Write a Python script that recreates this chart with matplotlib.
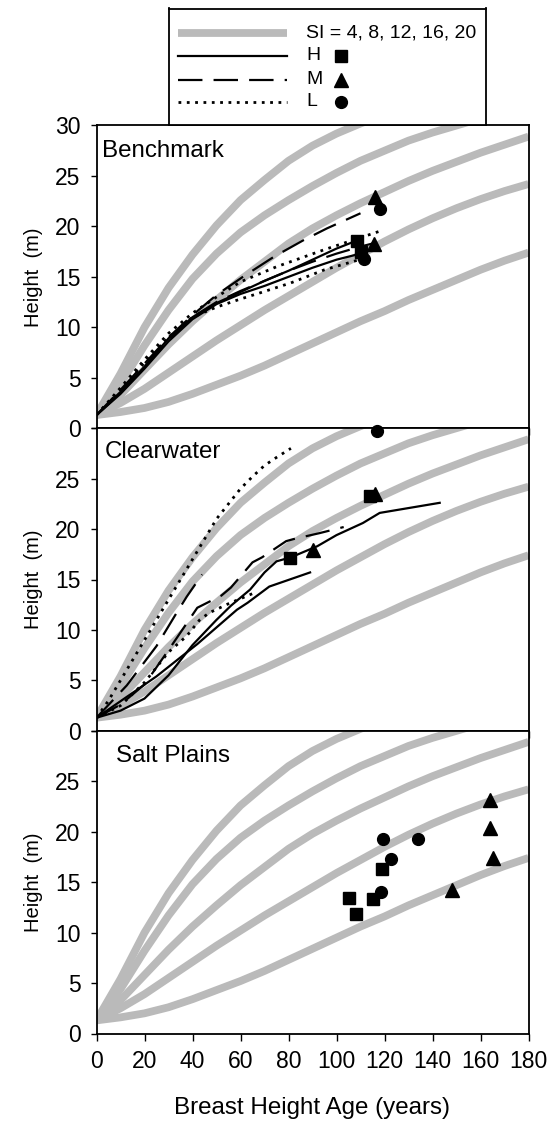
import matplotlib
matplotlib.use("Agg")
import matplotlib.pyplot as plt
from matplotlib.lines import Line2D

plt.rcParams['font.family'] = ['Liberation Sans', 'DejaVu Sans']

# ---------------- data ----------------
si_labels = [20, 16, 12, 8, 4]
si_ages = [0, 10, 20, 30, 40, 50, 60, 70, 80, 90, 100, 110, 120, 130, 140, 150, 160, 170, 180]
si20 = [1.3, 5.4, 10.0, 13.9, 17.2, 20.1, 22.6, 24.6, 26.5, 28.0, 29.2, 30.2, 31.1, 31.8, 32.4, 32.9, 33.3, 33.6, 33.9]
si16 = [1.3, 4.4, 8.2, 11.7, 14.8, 17.3, 19.4, 21.1, 22.6, 24.0, 25.3, 26.5, 27.5, 28.5, 29.3, 30.0, 30.7, 31.3, 31.8]
si12 = [1.3, 3.3, 5.8, 8.3, 10.6, 12.7, 14.7, 16.5, 18.3, 19.8, 21.1, 22.3, 23.4, 24.5, 25.5, 26.4, 27.3, 28.1, 28.9]
si8 = [1.3, 2.5, 3.9, 5.5, 7.1, 8.7, 10.2, 11.7, 13.1, 14.5, 15.9, 17.2, 18.5, 19.7, 20.8, 21.8, 22.7, 23.5, 24.2]
si4 = [1.3, 1.6, 2.0, 2.6, 3.4, 4.3, 5.2, 6.2, 7.3, 8.4, 9.5, 10.6, 11.6, 12.7, 13.7, 14.7, 15.7, 16.6, 17.4]
si_curves = [si20, si16, si12, si8, si4]

# Benchmark stand profiles
bm_H1_age = [0, 10, 20, 30, 40, 50, 60, 70, 80, 90, 100, 108.5]
bm_H1_ht = [1.3, 3.6, 6.1, 8.9, 11.0, 12.4, 13.5, 14.6, 15.6, 16.7, 17.8, 18.6]
bm_H2_age = [0, 10, 20, 30, 40, 50, 60, 70, 80, 90, 100, 110]
bm_H2_ht = [1.3, 3.4, 5.9, 8.6, 10.8, 12.3, 13.3, 14.1, 15.0, 15.9, 16.7, 17.3]
bm_M1_age = [0, 10, 20, 30, 40, 50, 61, 74, 86, 96, 110]
bm_M1_ht = [1.3, 3.8, 6.4, 9.0, 11.2, 13.2, 15.0, 17.0, 18.6, 19.8, 21.3]
bm_M2_age = [0, 10, 20, 30, 40, 50, 60, 70, 80, 90, 100, 110, 115]
bm_M2_ht = [1.3, 3.5, 6.0, 8.8, 11.0, 12.5, 13.6, 14.6, 15.6, 16.5, 17.3, 18.0, 18.3]
bm_L1_age = [0, 10, 20, 30, 40, 50, 60, 75, 95, 119]
bm_L1_ht = [1.3, 4.0, 6.8, 9.4, 11.4, 13.0, 14.5, 16.0, 17.7, 19.6]
bm_L2_age = [0, 10, 20, 30, 40, 50, 60, 68, 81, 95, 111]
bm_L2_ht = [1.3, 3.8, 6.5, 9.0, 11.0, 12.0, 12.8, 13.4, 14.4, 15.7, 16.8]
bm_H_pts_age = [108.5, 110]
bm_H_pts_ht = [18.6, 17.5]
bm_M_pts_age = [116, 115.5]
bm_M_pts_ht = [22.9, 18.3]
bm_L_pts_age = [118, 111.6]
bm_L_pts_ht = [21.7, 16.8]

# Clearwater stand profiles
cw_L1_age = [0, 5, 10, 15, 20, 25, 30, 35, 40, 45, 50, 55, 60, 65, 70, 75, 81]
cw_L1_ht = [1.3, 3.0, 5.0, 7.0, 9.0, 11.0, 13.0, 15.0, 17.0, 19.0, 21.0, 22.5, 24.0, 25.2, 26.3, 27.1, 28.0]
cw_L2_age = [0, 10, 20, 30, 37.6, 43, 47, 55, 65]
cw_L2_ht = [1.3, 2.5, 4.8, 7.8, 9.4, 11.0, 11.7, 12.6, 13.6]
cw_M1_age = [0, 10, 20, 30, 42, 52, 56, 65, 69, 79, 82, 93, 103]
cw_M1_ht = [1.3, 2.6, 4.6, 8.0, 12.2, 13.4, 14.2, 16.7, 17.2, 18.8, 19.0, 19.6, 20.2]
cw_M2_age = [0, 12.6, 25, 33.4, 37.6, 44]
cw_M2_ht = [1.3, 4.5, 8.4, 11.7, 13.3, 15.5]
cw_H1_age = [0, 10, 20, 30, 40, 50, 56, 64, 70, 75, 81, 92, 100, 111, 118, 143]
cw_H1_ht = [1.3, 2.0, 3.2, 5.5, 8.5, 11.0, 12.4, 14.0, 15.7, 16.8, 17.2, 18.3, 19.4, 20.6, 21.6, 22.6]
cw_H2_age = [0, 11, 25, 42, 58.5, 63, 72, 89]
cw_H2_ht = [1.3, 3.1, 5.4, 8.6, 12.0, 12.7, 14.3, 15.7]
cw_H_pts_age = [80.7, 114]
cw_H_pts_ht = [17.15, 23.3]
cw_M_pts_age = [90.1, 116]
cw_M_pts_ht = [17.9, 23.5]
cw_L_pts_age = [117]
cw_L_pts_ht = [29.7]

# Salt Plains plot measurements
sp_H_age = [105, 108, 115, 119]
sp_H_ht = [13.4, 11.8, 13.3, 16.3]
sp_M_age = [148, 164, 164, 165]
sp_M_ht = [14.2, 23.1, 20.4, 17.4]
sp_L_age = [118.5, 119.5, 122.8, 133.8]
sp_L_ht = [14.0, 19.3, 17.3, 19.3]

panel_names = ["Benchmark", "Clearwater", "Salt Plains"]
x_ticks = [0, 20, 40, 60, 80, 100, 120, 140, 160, 180]
y_ticks = [0, 5, 10, 15, 20, 25, 30]

# ---------------- style ----------------
W, H = 551, 1123
fig = plt.figure(figsize=(W / 100, H / 100), dpi=100)
GRAY = '#bababa'
SI_LW = 5.6
LW = 1.6
DASH = (0, (11, 5))
DOT = (0, (1, 2))
MS = 8.5

left_px, right_px = 96.5, 528.5
top_px, bot_px = 125.5, 1033.5
ph = (bot_px - top_px) / 3
title_pos = [(0.012, 0.897), (0.020, 0.901), (0.045, 0.896)]

axes = []
for i in range(3):
    y0 = top_px + i * ph
    ax = fig.add_axes([left_px / W, 1 - (y0 + ph) / H, (right_px - left_px) / W, ph / H])
    axes.append(ax)


def style(ls):
    return dict(color='black', lw=LW if ls != DOT else 2.0, linestyle=ls)


def si_band(ax, x, y):
    ax.plot(x, y, color=GRAY, lw=SI_LW, solid_capstyle='butt', zorder=1)


for i, ax in enumerate(axes):
    for c in si_curves:
        si_band(ax, si_ages, c)
    ax.set_xlim(0, 180)
    ax.set_ylim(0, 30)
    ax.set_yticks(y_ticks)
    if i == 0:
        ax.set_yticklabels([str(v) for v in y_ticks])
    else:
        ax.set_yticklabels([str(v) for v in y_ticks[:-1]] + [''])
    ax.set_xticks(x_ticks)
    if i < 2:
        ax.tick_params(axis='x', which='both', length=0, labelbottom=False)
    ax.tick_params(axis='y', direction='out', length=4.5, width=1.0, labelsize=16.5, pad=7)
    ax.tick_params(axis='x', direction='out', length=5, width=1.0, labelsize=16.5, pad=7)
    for s in ax.spines.values():
        s.set_linewidth(1.3)
    ax.set_ylabel("Height  (m)", fontsize=14.5, labelpad=9)
    tx, ty = title_pos[i]
    ax.text(tx, ty, panel_names[i], transform=ax.transAxes, fontsize=17.4,
            va='baseline', ha='left')

ax = axes[0]
ax.plot(bm_H1_age, bm_H1_ht, **style('-'), zorder=3)
ax.plot(bm_H2_age, bm_H2_ht, **style('-'), zorder=3)
ax.plot(bm_M1_age, bm_M1_ht, **style(DASH), zorder=3)
ax.plot(bm_M2_age, bm_M2_ht, **style(DASH), zorder=3)
ax.plot(bm_L1_age, bm_L1_ht, **style(DOT), zorder=3)
ax.plot(bm_L2_age, bm_L2_ht, **style(DOT), zorder=3)
ax.plot(bm_H_pts_age, bm_H_pts_ht, 's', color='black', ms=MS, zorder=4)
ax.plot(bm_M_pts_age, bm_M_pts_ht, '^', color='black', ms=MS + 1, zorder=4)
ax.plot(bm_L_pts_age, bm_L_pts_ht, 'o', color='black', ms=MS, zorder=4)

ax = axes[1]
ax.plot(cw_L1_age, cw_L1_ht, **style(DOT), zorder=3)
ax.plot(cw_L2_age, cw_L2_ht, **style(DOT), zorder=3)
ax.plot(cw_M1_age, cw_M1_ht, **style(DASH), zorder=3)
ax.plot(cw_M2_age, cw_M2_ht, **style(DASH), zorder=3)
ax.plot(cw_H1_age, cw_H1_ht, **style('-'), zorder=3)
ax.plot(cw_H2_age, cw_H2_ht, **style('-'), zorder=3)
ax.plot(cw_H_pts_age, cw_H_pts_ht, 's', color='black', ms=MS, zorder=4)
ax.plot(cw_M_pts_age, cw_M_pts_ht, '^', color='black', ms=MS + 1, zorder=4)
ax.plot(cw_L_pts_age, cw_L_pts_ht, 'o', color='black', ms=MS, zorder=4, clip_on=False)

ax = axes[2]
ax.plot(sp_H_age, sp_H_ht, 's', color='black', ms=MS, zorder=4)
ax.plot(sp_M_age, sp_M_ht, '^', color='black', ms=MS + 1, zorder=4)
ax.plot(sp_L_age, sp_L_ht, 'o', color='black', ms=MS, zorder=4)
ax.set_xlabel("Breast Height Age (years)", fontsize=17.4, labelpad=17)

# ---------------- legend box ----------------
lx0, lx1, ly0, ly1 = 168.5, 485.5, 8.5, 125.5
lax = fig.add_axes([lx0 / W, 1 - ly1 / H, (lx1 - lx0) / W, (ly1 - ly0) / H])
lax.set_xlim(lx0, lx1)
lax.set_ylim(ly1, ly0)
lax.set_xticks([])
lax.set_yticks([])
for s in lax.spines.values():
    s.set_linewidth(1.3)
rows = [33, 56, 80, 102]
texts = ["SI = 4, 8, 12, 16, 20", "H", "M", "L"]
si_band(lax, [178, 287], [rows[0]] * 2)
lax.add_line(Line2D([178, 287], [rows[1]] * 2, **style('-')))
lax.add_line(Line2D([178, 287], [rows[2]] * 2, **style(DASH)))
lax.add_line(Line2D([178, 287], [rows[3]] * 2, **style(DOT)))
for r, t in zip(rows, texts):
    lax.text(306, r, t, fontsize=14, va='center', ha='left')
lax.plot([341], [rows[1]], 's', color='black', ms=MS)
lax.plot([341], [rows[2]], '^', color='black', ms=MS + 1)
lax.plot([341], [rows[3]], 'o', color='black', ms=MS)

fig.savefig("out.png", dpi=100)
